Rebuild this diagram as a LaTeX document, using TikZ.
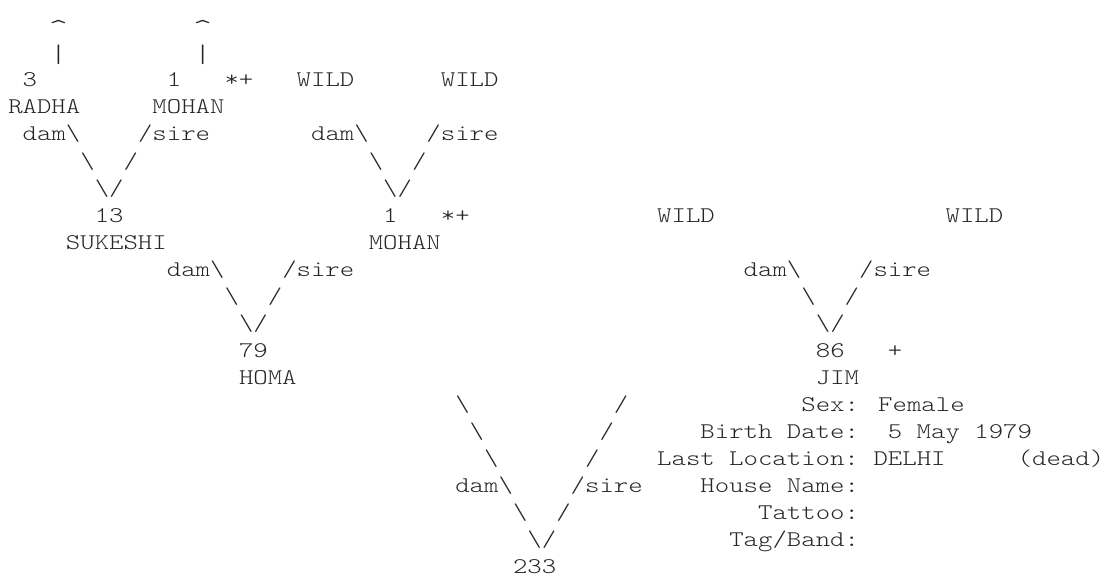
\documentclass[tikz,border=0pt]{standalone}
\usepackage{fontspec}
\newfontfamily\asciifont{lmmonolt10-regular}[Extension=.otf, FakeStretch=1.225]
\newcommand{\bsl}{\textbackslash}
\begin{document}
\begin{tikzpicture}[
    x=10.815pt, y=-20.25pt,
    asc/.style={anchor=base west, inner sep=0pt, text=black!85, font={\asciifont\fontsize{16.8pt}{20pt}\selectfont}},
    caret/.style={asc, anchor=base, yshift=-4pt, font={\asciifont\fontsize{22pt}{24pt}\selectfont}},
    pipe/.style={asc, anchor=base, yshift=-2pt, font={\asciifont\fontsize{19pt}{22pt}\selectfont}}
]
\useasboundingbox (-0.555,-0.222) rectangle (76.07,21.48);

% top row of grand-grandparents
\node[caret] (upa) at (3.5,1) {\textasciicircum};
\node[caret] (upb) at (13.5,1) {\textasciicircum};
\node[pipe] (bara) at (3.5,2) {\textbar};
\node[pipe] (barb) at (13.5,2) {\textbar};
\node[asc] (n3) at (1,3) {3};
\node[asc] (n1a) at (11,3) {1};
\node[asc] (marka) at (15,3) {*+};
\node[asc] (wilda) at (20,3) {WILD};
\node[asc] (wildb) at (30,3) {WILD};
\node[asc] (radha) at (0,4) {RADHA};
\node[asc] (mohana) at (10,4) {MOHAN};
\node[asc] (dama) at (1,5) {dam\bsl};
\node[asc] (sirea) at (9,5) {/sire};
\node[asc] (damb) at (21,5) {dam\bsl};
\node[asc] (sireb) at (29,5) {/sire};
\node[asc] (la1) at (5,6) {\bsl};
\node[asc] (ra1) at (8,6) {/};
\node[asc] (lb1) at (25,6) {\bsl};
\node[asc] (rb1) at (28,6) {/};
\node[asc] (va) at (6,7) {\bsl/};
\node[asc] (vb) at (26,7) {\bsl/};

% grandparents
\node[asc] (n13) at (6,8) {13};
\node[asc] (n1b) at (26,8) {1};
\node[asc] (markb) at (30,8) {*+};
\node[asc] (wildc) at (45,8) {WILD};
\node[asc] (wildd) at (65,8) {WILD};
\node[asc] (sukeshi) at (4,9) {SUKESHI};
\node[asc] (mohanb) at (25,9) {MOHAN};
\node[asc] (damc) at (11,10) {dam\bsl};
\node[asc] (sirec) at (19,10) {/sire};
\node[asc] (damd) at (51,10) {dam\bsl};
\node[asc] (sired) at (59,10) {/sire};
\node[asc] (lc1) at (15,11) {\bsl};
\node[asc] (rc1) at (18,11) {/};
\node[asc] (ld1) at (55,11) {\bsl};
\node[asc] (rd1) at (58,11) {/};
\node[asc] (vc) at (16,12) {\bsl/};
\node[asc] (vd) at (56,12) {\bsl/};

% parents
\node[asc] (n79) at (16,13) {79};
\node[asc] (n86) at (56,13) {86};
\node[asc] (markc) at (61,13) {+};
\node[asc] (homa) at (16,14) {HOMA};
\node[asc] (jim) at (56,14) {JIM};

% subject 233
\node[asc] (le1) at (31,15) {\bsl};
\node[asc] (re1) at (42,15) {/};
\node[asc] (le2) at (32,16) {\bsl};
\node[asc] (re2) at (41,16) {/};
\node[asc] (le3) at (33,17) {\bsl};
\node[asc] (re3) at (40,17) {/};
\node[asc] (dame) at (31,18) {dam\bsl};
\node[asc] (siree) at (39,18) {/sire};
\node[asc] (le4) at (35,19) {\bsl};
\node[asc] (re4) at (38,19) {/};
\node[asc] (ve) at (36,20) {\bsl/};
\node[asc] (n233) at (35,21) {233};

% record fields
\node[asc] (sex) at (55,15) {Sex: Female};
\node[asc] (birth) at (48,16) {Birth Date:};
\node[asc] (birthval) at (61,16) {5 May 1979};
\node[asc] (loc) at (45,17) {Last Location:};
\node[asc] (locval) at (60,17) {DELHI};
\node[asc] (dead) at (70,17) {(dead)};
\node[asc] (house) at (48,18) {House Name:};
\node[asc] (tattoo) at (52,19) {Tattoo:};
\node[asc] (tag) at (50,20) {Tag/Band:};
\end{tikzpicture}
\end{document}
